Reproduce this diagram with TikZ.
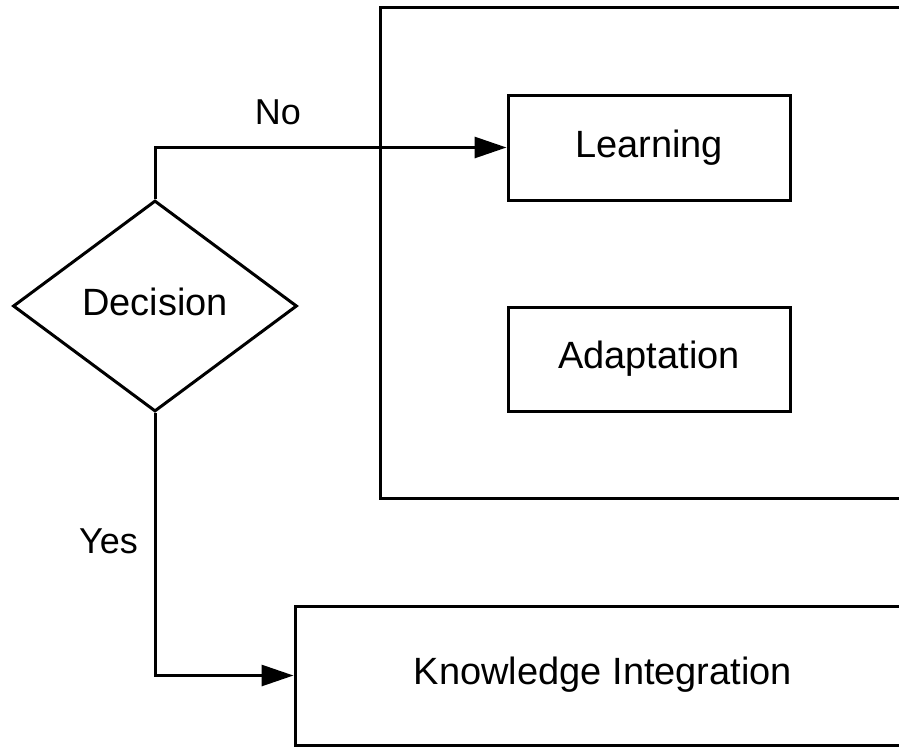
\documentclass[tikz,border=0pt]{standalone}
\usepackage{fontspec}
\setmainfont{Liberation Sans}
\usetikzlibrary{arrows.meta,shapes.geometric}
\begin{document}
\begin{tikzpicture}[x=1pt,y=-1pt,
  big/.style={font=\fontsize{38}{44}\selectfont},
  mid/.style={font=\fontsize{36}{42}\selectfont},
  box/.style={draw,line width=3pt,rectangle,inner sep=0pt},
  choice/.style={draw,line width=3pt,diamond,inner sep=0pt,
    minimum width=284pt,minimum height=211pt},
  flow/.style={line width=3pt,line join=miter,
    -{Triangle[length=32pt,width=21pt]}},
  lbl/.style={inner sep=0pt}]
\useasboundingbox (0,0) rectangle (899,747);
\fill[white] (0,0) rectangle (899,747);
\begin{scope}
\clip (0,0) rectangle (899,747);
% container and process boxes
\node[box,minimum width=620pt,minimum height=491pt] (group) at (690,252.5) {};
\node[box,big,minimum width=282pt,minimum height=105pt] (learn) at (649,147.5) {Learning};
\node[box,big,minimum width=282pt,minimum height=104pt] (adapt) at (649,359) {Adaptation};
\node[box,minimum width=704pt,minimum height=139pt] (ki) at (647,675.5) {};
\node[lbl,big] (kitext) at (603,675) {Knowledge Integration};
% decision
\node[choice] (dec) at (155,306) {};
\node[lbl,big] (dectext) at (155,301.5) {Decision};
% connectors
\draw[flow] (dec.north) |- (learn.west);
\draw[flow] (dec.south) |- (ki.west);
\node[lbl,mid] (no) at (278,112) {No};
\node[lbl,mid] (yes) at (108.5,541.5) {Yes};
\end{scope}
\end{tikzpicture}
\end{document}
